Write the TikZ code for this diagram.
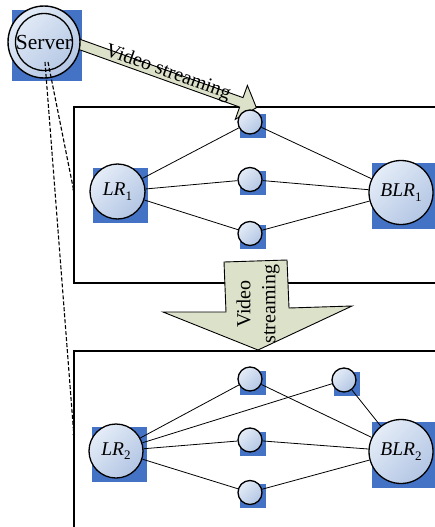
\documentclass[tikz,border=0pt]{standalone}
\usepackage{fontspec}
\setmainfont{Liberation Serif}
\usetikzlibrary{calc,arrows.meta}
\pgfdeclarelayer{bg}
\pgfsetlayers{bg,main}
\definecolor{sqblue}{HTML}{4472C4}
\definecolor{nodelight}{HTML}{E4ECF7}
\definecolor{nodedark}{HTML}{B3C6E4}
\definecolor{arrowfill}{HTML}{DCE1C9}
\newcommand\lbl[2]{\textit{#1}\raisebox{-0.22em}{\fontsize{13}{13}\selectfont #2}}
\newcommand\sqr[3]{\begin{pgfonlayer}{bg}\fill[sqblue] ($(#1)+(3-#2,3.5-#3)$) rectangle ($(#1)+(3+#2,3.5+#3)$);\end{pgfonlayer}}
\begin{document}
\begin{tikzpicture}[x=1pt,y=-1pt,
  rnode/.style={circle,draw=black,line width=1.3pt,inner sep=0pt,top color=nodelight,bottom color=nodedark,shading angle=45,font=\fontsize{19.5}{22}\selectfont},
  small/.style={rnode,minimum size=24pt},
  midn/.style={rnode,minimum size=55pt},
  bign/.style={rnode,minimum size=64pt},
  link/.style={line width=0.8pt},
  boxline/.style={line width=1.4pt},
  feed/.style={line width=1.1pt,dash pattern=on 4pt off 2pt},
  blockarrow/.style={fill=arrowfill,draw=black,line width=0.9pt,line join=miter},
  atext/.style={font=\fontsize{20}{22}\selectfont}]
\path[use as bounding box] (0,0) rectangle (435,527);
\clip (0,0) rectangle (435,527);
% frames
\draw[boxline] (74,107) rectangle (445,283);
\draw[boxline] (74,351) rectangle (445,540);
% block arrows
\begin{scope}[shift={(70,41)},rotate=-19.7]
\draw[blockarrow] (0,-5) -- (182,-5) -- (182,-18) -- (198,0) -- (182,18) -- (182,5) -- (0,5) -- cycle;
\node[atext,transform shape] (vs1) at (103,-3) {Video streaming};
\end{scope}
\draw[blockarrow] (224,262) -- (287,260) -- (289,308) -- (352,306) -- (258,350) -- (163,312) -- (226,312) -- cycle;
\node[atext,rotate=90,align=center,font=\fontsize{20}{25}\selectfont] (vs2) at (258,304) {Video\\streaming};
% nodes
\node[rnode,minimum size=72pt,line width=1.4pt,font=\fontsize{21.5}{24}\selectfont] (srv) at (44,42) {Server};
\draw[line width=1.3pt] (srv.center) circle (28.5pt);
\sqr{srv}{35}{35.5}
\node[small] (t1) at (250,122) {};
\node[small] (t2) at (250,179.5) {};
\node[small] (t3) at (250,233.5) {};
\node[midn] (lr1) at (117.5,191.5) {\lbl{LR}{1}};
\node[bign] (blr1) at (401,192.5) {\lbl{BLR}{1}};
\node[small] (b1) at (250,379) {};
\node[small] (b4) at (344,380) {};
\node[small] (b2) at (250,440) {};
\node[small] (b3) at (250,492.5) {};
\node[midn,minimum size=54pt] (lr2) at (116,451) {\lbl{LR}{2}};
\node[bign] (blr2) at (401,451.5) {\lbl{BLR}{2}};
\foreach \n in {t1,t2,t3,b1,b4,b2,b3} {\sqr{\n}{13}{12}}
\foreach \n in {lr1,lr2} {\sqr{\n}{27.5}{27.5}}
\foreach \n in {blr1,blr2} {\sqr{\n}{32}{33}}
% links
\foreach \n in {t1,t2,t3} {\draw[link] (lr1) -- (\n); \draw[link] (\n) -- (blr1);}
\foreach \n in {b1,b4,b2,b3} {\draw[link] (lr2) -- (\n); \draw[link] (\n) -- (blr2);}
% feeds from server
\coordinate (so1) at ($(srv.center)+(1,20)$);
\coordinate (so2) at ($(srv.center)+(4,20)$);
\coordinate (f1) at (74,192);
\coordinate (f2) at (74,437);
\draw[feed,-{Stealth[length=3pt,width=2.5pt]}] (so2) -- (f1);
\draw[feed,-{Stealth[length=3pt,width=2.5pt]}] (so1) -- (f2);
\end{tikzpicture}
\end{document}
